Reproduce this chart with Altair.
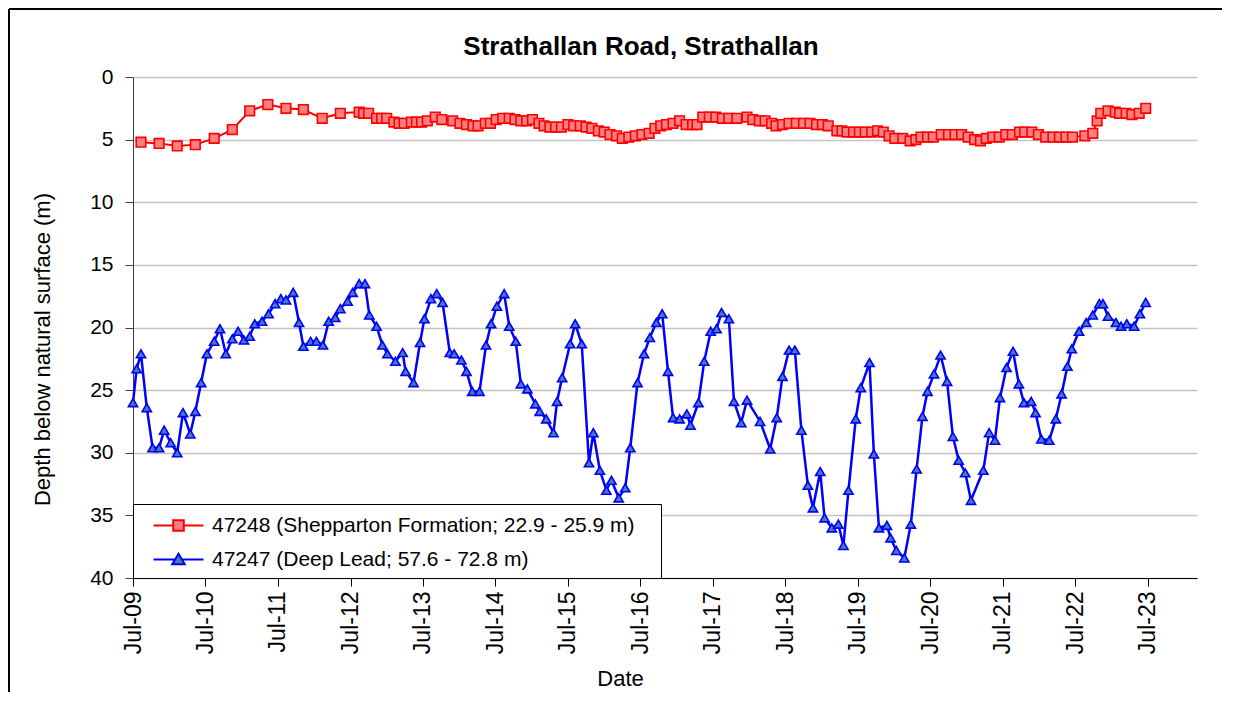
import altair as alt
import pandas as pd

title_text = "Strathallan Road, Strathallan"
red_label = "47248 (Shepparton Formation; 22.9 - 25.9 m)"
blue_label = "47247 (Deep Lead; 57.6 - 72.8 m)"
x_tick_years = list(range(2009, 2024))
y_ticks = [0, 5, 10, 15, 20, 25, 30, 35, 40]

# decimal years / depths (m)
red_years = [2009.61, 2009.86, 2010.11, 2010.36, 2010.62, 2010.87, 2011.11, 2011.36, 2011.61, 2011.85,
             2012.11, 2012.36, 2012.62, 2012.68, 2012.75, 2012.86, 2012.93, 2013.00, 2013.10, 2013.17,
             2013.24, 2013.34, 2013.41, 2013.48, 2013.56, 2013.67, 2013.76, 2013.91, 2014.01, 2014.10,
             2014.19, 2014.26, 2014.36, 2014.43, 2014.51, 2014.60, 2014.69, 2014.77, 2014.85, 2014.93,
             2015.01, 2015.10, 2015.17, 2015.25, 2015.33, 2015.41, 2015.50, 2015.58, 2015.67, 2015.75,
             2015.83, 2015.92, 2016.00, 2016.08, 2016.17, 2016.25, 2016.34, 2016.43, 2016.52, 2016.62,
             2016.70, 2016.78, 2016.86, 2016.95, 2017.04, 2017.13, 2017.22, 2017.28, 2017.36, 2017.45,
             2017.54, 2017.63, 2017.72, 2017.83, 2017.97, 2018.05, 2018.14, 2018.22, 2018.31, 2018.37,
             2018.46, 2018.55, 2018.65, 2018.75, 2018.84, 2018.93, 2019.01, 2019.09, 2019.21, 2019.28,
             2019.35, 2019.44, 2019.52, 2019.60, 2019.69, 2019.77, 2019.85, 2019.93, 2020.01, 2020.12,
             2020.22, 2020.30, 2020.37, 2020.46, 2020.54, 2020.65, 2020.75, 2020.84, 2020.93, 2021.02,
             2021.11, 2021.19, 2021.27, 2021.36, 2021.45, 2021.54, 2021.63, 2021.73, 2021.80, 2021.90,
             2021.99, 2022.09, 2022.19, 2022.28, 2022.37, 2022.46, 2022.63, 2022.74, 2022.80, 2022.85,
             2022.95, 2023.05, 2023.11, 2023.20, 2023.28, 2023.38, 2023.47]
red_depths = [5.2, 5.3, 5.5, 5.4, 4.9, 4.2, 2.7, 2.2, 2.5, 2.6,
              3.3, 2.9, 2.8, 2.9, 2.9, 3.3, 3.3, 3.3, 3.6, 3.7,
              3.7, 3.6, 3.6, 3.6, 3.5, 3.2, 3.4, 3.5, 3.7, 3.8,
              3.9, 3.9, 3.7, 3.7, 3.4, 3.3, 3.3, 3.4, 3.5, 3.5,
              3.4, 3.7, 3.9, 4.0, 4.0, 4.0, 3.8, 3.9, 3.9, 4.0,
              4.1, 4.3, 4.4, 4.6, 4.7, 4.9, 4.8, 4.7, 4.6, 4.5,
              4.1, 3.9, 3.8, 3.7, 3.5, 3.8, 3.8, 3.8, 3.2, 3.2,
              3.2, 3.3, 3.3, 3.3, 3.2, 3.4, 3.5, 3.5, 3.7, 3.9,
              3.8, 3.7, 3.7, 3.7, 3.7, 3.8, 3.8, 3.9, 4.3, 4.3,
              4.4, 4.4, 4.4, 4.4, 4.4, 4.3, 4.4, 4.7, 4.9, 4.9,
              5.1, 5.0, 4.8, 4.8, 4.8, 4.6, 4.6, 4.6, 4.6, 4.8,
              5.0, 5.1, 4.9, 4.8, 4.8, 4.6, 4.6, 4.4, 4.4, 4.4,
              4.6, 4.8, 4.8, 4.8, 4.8, 4.8, 4.7, 4.5, 3.5, 2.9,
              2.7, 2.8, 2.9, 2.9, 3.0, 2.9, 2.5]

blue_years = [2009.50, 2009.55, 2009.61, 2009.69, 2009.77, 2009.86, 2009.93, 2010.02, 2010.11, 2010.19,
              2010.29, 2010.36, 2010.44, 2010.52, 2010.62, 2010.70, 2010.78, 2010.87, 2010.95, 2011.03,
              2011.11, 2011.18, 2011.28, 2011.37, 2011.46, 2011.54, 2011.61, 2011.71, 2011.79, 2011.85,
              2011.95, 2012.03, 2012.12, 2012.20, 2012.29, 2012.36, 2012.46, 2012.53, 2012.62, 2012.70,
              2012.76, 2012.86, 2012.94, 2013.01, 2013.12, 2013.22, 2013.26, 2013.37, 2013.46, 2013.52,
              2013.61, 2013.69, 2013.77, 2013.87, 2013.93, 2014.03, 2014.10, 2014.18, 2014.28, 2014.37,
              2014.44, 2014.52, 2014.62, 2014.69, 2014.78, 2014.85, 2014.94, 2015.05, 2015.11, 2015.20,
              2015.30, 2015.35, 2015.42, 2015.53, 2015.60, 2015.69, 2015.79, 2015.85, 2015.94, 2016.03,
              2016.10, 2016.20, 2016.29, 2016.36, 2016.46, 2016.55, 2016.63, 2016.72, 2016.80, 2016.88,
              2016.95, 2017.04, 2017.14, 2017.19, 2017.30, 2017.38, 2017.47, 2017.55, 2017.62, 2017.72,
              2017.79, 2017.89, 2017.97, 2018.15, 2018.29, 2018.38, 2018.46, 2018.55, 2018.63, 2018.72,
              2018.81, 2018.88, 2018.98, 2019.04, 2019.14, 2019.23, 2019.30, 2019.37, 2019.47, 2019.54,
              2019.66, 2019.72, 2019.79, 2019.90, 2019.95, 2020.03, 2020.14, 2020.23, 2020.31, 2020.39,
              2020.46, 2020.55, 2020.64, 2020.73, 2020.81, 2020.89, 2020.98, 2021.06, 2021.23, 2021.31,
              2021.39, 2021.46, 2021.55, 2021.64, 2021.72, 2021.79, 2021.89, 2021.95, 2022.03, 2022.14,
              2022.23, 2022.31, 2022.39, 2022.45, 2022.55, 2022.65, 2022.74, 2022.83, 2022.88, 2022.95,
              2023.06, 2023.13, 2023.21, 2023.31, 2023.39, 2023.47]
blue_depths = [26.0, 23.3, 22.1, 26.4, 29.6, 29.6, 28.2, 29.2, 30.0, 26.8,
               28.5, 26.7, 24.4, 22.1, 21.1, 20.1, 22.1, 20.9, 20.3, 21.0,
               20.7, 19.7, 19.5, 18.9, 18.1, 17.7, 17.8, 17.2, 19.6, 21.5,
               21.1, 21.1, 21.4, 19.5, 19.2, 18.5, 17.9, 17.2, 16.5, 16.5,
               19.0, 19.9, 21.4, 22.1, 22.7, 22.0, 23.5, 24.4, 21.2, 19.3,
               17.7, 17.3, 18.0, 22.0, 22.1, 22.6, 23.5, 25.1, 25.1, 21.4,
               19.7, 18.3, 17.3, 19.9, 21.1, 24.5, 24.9, 26.1, 26.7, 27.3,
               28.4, 25.9, 24.0, 21.3, 19.7, 21.3, 30.8, 28.4, 31.4, 33.0,
               32.2, 33.6, 32.8, 29.6, 24.4, 22.1, 20.8, 19.6, 18.9, 23.5,
               27.2, 27.3, 26.9, 27.8, 26.0, 22.7, 20.3, 20.1, 18.8, 19.3,
               25.9, 27.6, 25.8, 27.5, 29.7, 27.2, 23.9, 21.8, 21.8, 28.2,
               32.6, 34.4, 31.5, 35.2, 36.0, 35.7, 37.4, 33.0, 27.3, 24.8,
               22.8, 30.1, 36.0, 35.8, 36.8, 37.8, 38.4, 35.7, 31.3, 27.1,
               25.1, 23.7, 22.2, 24.3, 28.7, 30.6, 31.6, 33.8, 31.4, 28.4,
               29.0, 25.6, 23.2, 21.9, 24.5, 26.0, 25.9, 26.8, 28.9, 29.0,
               27.3, 25.3, 23.1, 21.7, 20.3, 19.6, 19.0, 18.1, 18.1, 19.1,
               19.6, 19.9, 19.7, 19.9, 18.9, 18.0]


def to_date(y):
    return pd.Timestamp("2009-07-01") + pd.Timedelta(days=(y - 2009.5) * 365.25)


df = pd.DataFrame({
    "date": [to_date(y) for y in red_years] + [to_date(y) for y in blue_years],
    "depth": red_depths + blue_depths,
    "series": [red_label] * len(red_years) + [blue_label] * len(blue_years),
})

FONT = "Liberation Sans"

x_enc = alt.X(
    "date:T",
    scale=alt.Scale(domain=[alt.DateTime(year=2009, month=7, date=1),
                            alt.DateTime(year=2024, month=3, date=5)], nice=False),
    axis=alt.Axis(
        values=[alt.DateTime(year=y, month=7, date=1) for y in x_tick_years],
        format="%b-%y", labelAngle=-90, labelPadding=5, labelFontSize=23,
        tickSize=8, tickColor="black", domainColor="black", grid=False,
        title="Date", titleFontSize=22, titleFontWeight="normal",
        titleX=487, titleY=107, titleBaseline="alphabetic", titleAlign="center",
    ),
)
y_enc = alt.Y(
    "depth:Q",
    scale=alt.Scale(domain=[0, 40], reverse=True, nice=False, zero=False),
    axis=alt.Axis(
        values=y_ticks, labelFontSize=21, labelPadding=12,
        tickSize=8, tickColor="#404040", domainColor="#404040",
        grid=True, gridColor="#c4c4c4", gridWidth=1.3,
        title="Depth below natural surface (m)", titleFontSize=22, titleFontWeight="normal",
        titleX=-91, titleY=272, titleAngle=270, titleAlign="center", titleBaseline="middle",
    ),
)

base = alt.Chart(df).encode(x=x_enc, y=y_enc)
red = base.transform_filter(alt.datum.series == red_label)
blue = base.transform_filter(alt.datum.series == blue_label)

red_line = red.mark_line(color="#ff0000", strokeWidth=2)
red_pts = red.mark_point(shape="square", size=92, filled=True, fill="#ff8080",
                         stroke="#ff0000", strokeWidth=1.6, opacity=1)
blue_line = blue.mark_line(color="#0000ff", strokeWidth=2.5)
blue_pts = blue.mark_point(shape="triangle-up", size=85, filled=True, fill="#4a7ab5",
                           stroke="#0000ff", strokeWidth=1.6, opacity=1)

sq_path = "M-2,0H-0.42M0.42,0H2M-0.42,-0.42H0.42V0.42H-0.42Z"
tri_path = "M-2,0H-0.27M0.27,0H2M0,-0.46L0.5,0.38H-0.5Z"
# legend entries (trailing no-break spaces, closed by a zero-width character so they are
# not trimmed, widen the legend box like the original)
dom = [red_label + "\u00a0\u00a0\u00a0\u200b", blue_label]
leg = alt.Legend(title=None)

legend_layer = alt.Chart(df).transform_filter("false").mark_point(
    filled=True, opacity=1, strokeWidth=2
).encode(
    x="date:T", y="depth:Q",
    shape=alt.Shape("series:N", scale=alt.Scale(domain=dom, range=[sq_path, tri_path]), legend=leg),
    stroke=alt.Stroke("series:N", scale=alt.Scale(domain=dom, range=["#ff0000", "#0000ff"]), legend=leg),
    fill=alt.Fill("series:N", scale=alt.Scale(domain=dom, range=["#ff8080", "#4a7ab5"]), legend=leg),
)

frame_top = alt.Chart(pd.DataFrame({"k": [0]})).mark_rule(color="black", strokeWidth=2).encode(
    x=alt.value(-124), x2=alt.value(1089), y=alt.value(-68))
frame_left = alt.Chart(pd.DataFrame({"k": [0]})).mark_rule(color="black", strokeWidth=2).encode(
    x=alt.value(-124), y=alt.value(-68), y2=alt.value(620))

chart = alt.layer(
    red_line, red_pts, blue_line, blue_pts, legend_layer, frame_top, frame_left
).resolve_scale(
    shape="independent", stroke="independent", fill="independent"
).properties(
    width=1064, height=501,
    autosize=alt.AutoSizeParams(type="none"),
    padding={"left": 125, "top": 69, "right": 25, "bottom": 114},
    title=alt.TitleParams(title_text, font=FONT, fontSize=26, fontWeight="bold",
                          anchor="middle", frame="group", offset=0, dy=52, dx=-24,
                          color="black"),
).configure(
    font=FONT, background="white",
).configure_view(
    strokeWidth=0,
).configure_axis(
    labelFont=FONT, titleFont=FONT, labelColor="black", titleColor="black",
).configure_legend(
    orient="bottom-left", offset=0, padding=8, fillColor="white", strokeColor="black",
    labelFont=FONT, labelFontSize=21, labelColor="black", symbolSize=625,
    symbolStrokeWidth=2, symbolOffset=24, labelOffset=20, rowPadding=10,
    labelLimit=800,
)

chart.save("out.html", embed_options={"renderer": "svg", "actions": False})
